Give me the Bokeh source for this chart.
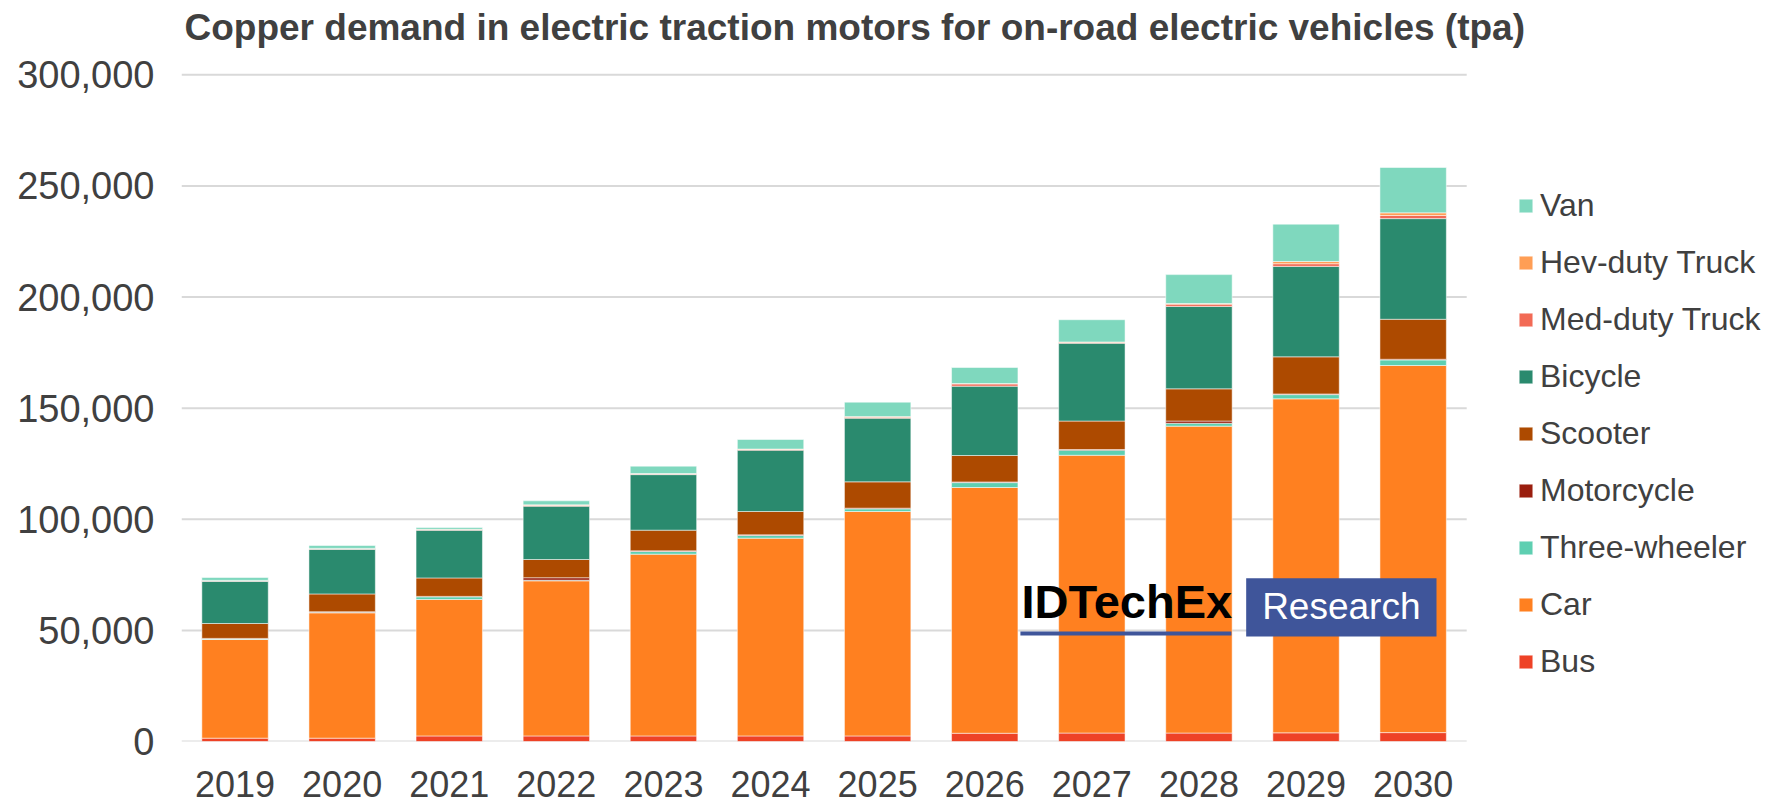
import numpy as np
from bokeh.plotting import figure
from bokeh.models import ColumnDataSource, FixedTicker, Legend, LegendItem, Label, BoxAnnotation, NumeralTickFormatter
from bokeh.embed import file_html
from bokeh.resources import INLINE

years = ["2019", "2020", "2021", "2022", "2023", "2024", "2025", "2026", "2027", "2028", "2029", "2030"]
bus = [1500, 1500, 2500, 2500, 2500, 2500, 2500, 3700, 3800, 3800, 3900, 4000]
car = [44400, 56400, 61400, 69800, 81800, 89000, 101000, 110600, 125000, 138100, 150300, 165200]
three_wheeler = [300, 300, 1200, 300, 1200, 1200, 1200, 2200, 2300, 1300, 1900, 2500]
motorcycle = [200, 200, 200, 1100, 300, 300, 300, 300, 300, 1000, 300, 300]
scooter = [6700, 8000, 8300, 8200, 9300, 10500, 11850, 11900, 12800, 14500, 16700, 18000]
bicycle = [19000, 20100, 21500, 24000, 25000, 27600, 28650, 31200, 35000, 37100, 40700, 45300]
med_truck = [200, 200, 200, 300, 300, 300, 400, 1000, 400, 1000, 1200, 1400]
hev_truck = [200, 200, 200, 300, 200, 200, 300, 200, 200, 300, 1000, 1200]
van = [1300, 1300, 800, 1800, 3300, 4300, 6500, 7200, 10000, 13000, 16800, 20400]

series = ["Bus", "Car", "Three-wheeler", "Motorcycle", "Scooter", "Bicycle", "Med-duty Truck", "Hev-duty Truck", "Van"]
colors = ["#EE4226", "#FF8020", "#5ECFB1", "#9A1E0E", "#AD4A00", "#2A8A6E", "#F26A55", "#FF9E55", "#7FD8BE"]
y_ticks = [0, 50000, 100000, 150000, 200000, 250000, 300000]
title_text = "Copper demand in electric traction motors for on-road electric vehicles (tpa)"

FONT = "Liberation Sans"
TXT = "#404040"
N = len(years)

src = ColumnDataSource(dict(x=list(range(N)), Bus=bus, Car=car, **{"Three-wheeler": three_wheeler},
                            Motorcycle=motorcycle, Scooter=scooter, Bicycle=bicycle,
                            **{"Med-duty Truck": med_truck, "Hev-duty Truck": hev_truck}, Van=van))

# frame spans from x=181 px to the right edge; one category = 107.1 px
p = figure(output_backend="svg", toolbar_location=None, title=None,
           width=1770, height=804,
           x_range=(-0.5, -0.5 + 1589 / 107.1), y_range=(0, 333450),
           min_border_left=181, min_border_right=0, min_border_top=0, min_border_bottom=63)

# horizontal grid lines only across the category area
grid = p.segment(x0=-0.5, x1=N - 0.5, y0=y_ticks, y1=y_ticks, line_color="#d9d9d9", line_width=2)
grid.level = "underlay"

renderers = p.vbar_stack(series, x="x", width=0.62, source=src, color=colors,
                         line_color="white", line_alpha=0.5, line_width=1)

p.outline_line_color = None
p.background_fill_color = "white"
p.border_fill_color = "white"
p.xgrid.grid_line_color = None
p.ygrid.grid_line_color = None

p.xaxis.ticker = FixedTicker(ticks=list(range(N)))
p.xaxis.major_label_overrides = {i: y for i, y in enumerate(years)}
p.yaxis.ticker = FixedTicker(ticks=y_ticks)
p.yaxis.formatter = NumeralTickFormatter(format="0,0")
for ax in (p.xaxis, p.yaxis):
    ax.axis_line_color = None
    ax.major_tick_line_color = None
    ax.minor_tick_line_color = None
    ax.major_tick_out = 0
    ax.major_tick_in = 0
    ax.minor_tick_out = 0
    ax.major_label_text_font = FONT
    ax.major_label_text_color = TXT
p.yaxis.major_label_text_font_size = "38px"
p.xaxis.major_label_text_font_size = "36px"
p.yaxis.major_label_standoff = 27
p.xaxis.major_label_standoff = 29

# title drawn inside the (extended) frame
p.add_layout(Label(x=-0.472, y=321500, text=title_text, text_font=FONT, text_font_size="37px",
                   text_font_style="bold", text_color=TXT, text_baseline="middle"))

items = [LegendItem(label=s, renderers=[r]) for s, r in zip(series, renderers)][::-1]
legend = Legend(items=items, location=(1336, 61), padding=0, margin=0,
                border_line_color=None, background_fill_alpha=0,
                glyph_width=17, glyph_height=17, label_standoff=6,
                label_text_font=FONT, label_text_font_size="32px", label_text_color=TXT,
                spacing=20)
p.add_layout(legend, "center")

# IDTechEx watermark
p.add_layout(Label(x=7.343, y=62800, text="IDTechEx", text_font=FONT, text_font_size="47px",
                   text_font_style="bold", text_color="black", text_baseline="middle"))
p.add_layout(BoxAnnotation(left=7.333, right=9.303, bottom=47700, top=49500,
                           fill_color="#3F559A", fill_alpha=1, line_color=None))
p.add_layout(BoxAnnotation(left=9.441, right=11.218, bottom=47250, top=73485,
                           fill_color="#3F559A", fill_alpha=1, line_color=None))
p.add_layout(Label(x=9.59, y=60600, text="Research", text_font=FONT, text_font_size="37px",
                   text_color="white", text_baseline="middle"))

open("out.html", "w").write(file_html(p, INLINE))
